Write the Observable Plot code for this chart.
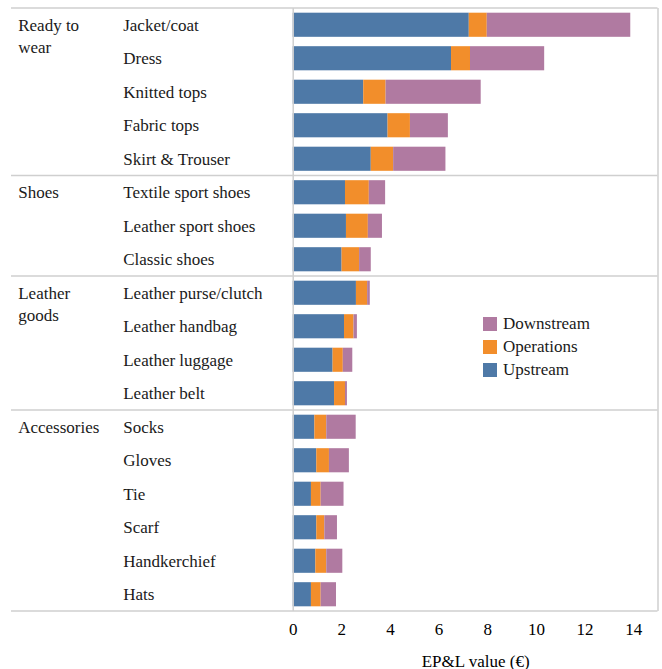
<!DOCTYPE html>
<html>
<head>
<meta charset="utf-8">
<script src="https://cdn.jsdelivr.net/npm/d3@7"></script>
<script src="https://cdn.jsdelivr.net/npm/@observablehq/plot@0.6"></script>
<style>
  html, body { margin: 0; padding: 0; background: #fff; font-family: "Liberation Serif", serif; }
  #chart svg { display: block; }
  #chart svg text { font-family: "Liberation Serif", serif; }
</style>
</head>
<body>
<div id="chart"></div>
<script>
const items = ["Jacket/coat","Dress","Knitted tops","Fabric tops","Skirt & Trouser",
  "Textile sport shoes","Leather sport shoes","Classic shoes",
  "Leather purse/clutch","Leather handbag","Leather luggage","Leather belt",
  "Socks","Gloves","Tie","Scarf","Handkerchief","Hats"];
const groups = ["Ready to\nwear","Shoes","Leather\ngoods","Accessories"];
const groupFirstItem = ["Jacket/coat","Textile sport shoes","Leather purse/clutch","Socks"];
const series = ["Upstream","Operations","Downstream"];
const colors = ["#4e79a7","#f28e2b","#b07aa1"];
const upstream   = [7.24,6.51,2.90,3.90,3.21,2.15,2.19,2.01,2.60,2.11,1.64,1.70,0.89,0.97,0.75,0.97,0.93,0.75];
const operations = [0.74,0.78,0.92,0.92,0.92,0.98,0.90,0.72,0.46,0.39,0.42,0.45,0.49,0.52,0.40,0.33,0.45,0.40];
const downstream = [5.90,3.05,3.91,1.56,2.15,0.67,0.58,0.48,0.11,0.14,0.39,0.08,1.21,0.82,0.94,0.52,0.66,0.63];
const xTicks = [0,2,4,6,8,10,12,14];

function render() {
  const seriesValues = [upstream, operations, downstream];
  const data = [];
  items.forEach((it, i) => series.forEach((s, j) => data.push({item: it, series: s, value: seriesValues[j][i]})));
  const groupData = groups.map((g, i) => ({group: g, item: groupFirstItem[i]}));

  const W = 662, H = 669;
  const mL = 292.7, mR = 4.5, mT = 8, mB = 58;
  const font = "Liberation Serif";
  const gridColor = "#cfcfcf";

  const chart = Plot.plot({
    width: W, height: H,
    marginLeft: mL, marginRight: mR, marginTop: mT, marginBottom: mB,
    style: {fontFamily: font, fontSize: "17px", background: "#fff"},
    x: {domain: [0, 15], ticks: xTicks, tickSize: 0, tickPadding: 11, label: "EP&L value (€)", labelAnchor: "center", labelOffset: 55, labelArrow: "none"},
    y: {domain: items, paddingInner: 0.28, paddingOuter: 0.14, round: false, axis: null},
    color: {domain: series, range: colors},
    marks: [
      Plot.barX(data, Plot.stackX({x: "value", y: "item", fill: "series", order: series})),
      Plot.ruleX([0, 15], {stroke: gridColor, strokeWidth: 1.5}),
      Plot.text(items, {y: d => d, frameAnchor: "left", dx: -170, textAnchor: "start", fill: "#1a1a1a", fontSize: 17, fontFamily: font}),
      Plot.text(groupData, {y: "item", text: "group", frameAnchor: "left", dx: -275, textAnchor: "start", lineAnchor: "top", dy: -10, lineHeight: 1.3, fill: "#1a1a1a", fontSize: 17, fontFamily: font})
    ]
  });

  const yScale = chart.scale("y");
  const svg = d3.select(chart);
  svg.attr("font-family", font);
  const step = yScale.step;
  const bounds = [];
  groupFirstItem.forEach(it => bounds.push(yScale.apply(it) - (step - yScale.bandwidth) / 2));
  bounds.push(yScale.apply(items[items.length - 1]) + yScale.bandwidth + (step - yScale.bandwidth) / 2);
  svg.append("g").selectAll("line").data(bounds).join("line")
    .attr("x1", 11).attr("x2", W - mR)
    .attr("y1", d => d).attr("y2", d => d)
    .attr("stroke", gridColor).attr("stroke-width", 1.5);

  const legendOrder = ["Downstream","Operations","Upstream"];
  const lg = svg.append("g").attr("font-size", 17).attr("fill", "#1a1a1a").attr("text-anchor", "start");
  legendOrder.forEach((s, i) => {
    const cy = 324 + i * 23;
    lg.append("rect").attr("x", 483).attr("y", cy - 7).attr("width", 14).attr("height", 14)
      .attr("fill", colors[series.indexOf(s)]);
    lg.append("text").attr("x", 503).attr("y", cy).attr("dy", "0.32em")
      .attr("font-family", font).text(s);
  });

  document.getElementById("chart").appendChild(chart);
}

let done = false;
function go() { if (!done) { done = true; render(); } }
if (document.fonts && document.fonts.load) {
  document.fonts.load("17px 'Liberation Serif'").then(go, go);
  setTimeout(go, 1500);
} else {
  go();
}
</script>
</body>
</html>
